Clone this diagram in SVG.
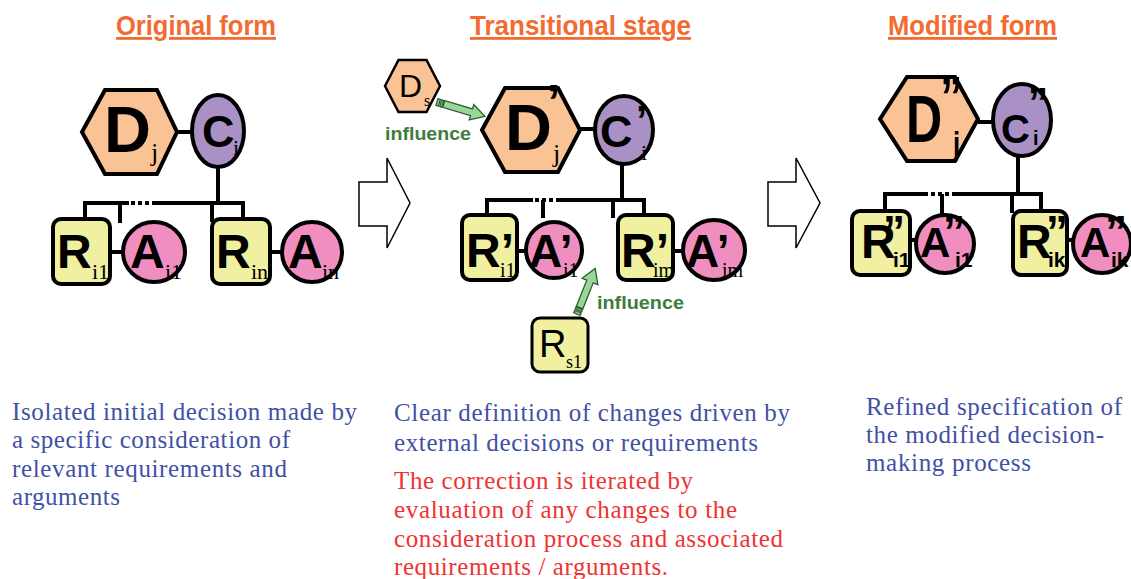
<svg xmlns="http://www.w3.org/2000/svg" width="1131" height="579" viewBox="0 0 1131 579">
<style>
.title{font-family:"Liberation Sans",Arial,sans-serif;font-weight:bold;font-size:28px;fill:#F26B30;text-decoration:underline}
.big{font-family:"Liberation Sans",Arial,sans-serif;font-weight:bold;fill:#000}
.reg{font-family:"Liberation Sans",Arial,sans-serif;fill:#000}
.ser{font-family:"Liberation Serif","Times New Roman",serif;font-weight:normal;fill:#000}
.hex{fill:#FAC396;stroke:#000;stroke-width:4;stroke-linejoin:miter}
.cel{fill:#A991C6;stroke:#000;stroke-width:4}
.rbox{fill:#F0F0A0;stroke:#000;stroke-width:4}
.acir{fill:#F08FBF;stroke:#000;stroke-width:4}
.ln{stroke:#000;stroke-width:4;fill:none}
.dash{stroke:#000;stroke-width:4;fill:none;stroke-dasharray:4 3}
.blk{fill:#fff;stroke:#000;stroke-width:1.5;stroke-linejoin:miter}
.garr{fill:#99D699;stroke:#2E5E2E;stroke-width:1.3}
.inf{font-family:"Liberation Sans",Arial,sans-serif;font-weight:bold;font-size:19px;fill:#3C7D3C}
.blue{font-family:"Liberation Serif","Times New Roman",serif;font-size:25px;fill:#3F51A5}
.red{font-family:"Liberation Serif","Times New Roman",serif;font-size:25px;fill:#EE3333}
</style>

<!-- titles -->
<text class="title" x="116" y="35" textLength="160" lengthAdjust="spacingAndGlyphs">Original form</text>
<text class="title" x="470" y="35" textLength="221" lengthAdjust="spacingAndGlyphs">Transitional stage</text>
<text class="title" x="888" y="35" textLength="169" lengthAdjust="spacingAndGlyphs">Modified form</text>

<!-- connectors -->
<g id="connectors">
  <line class="ln" x1="177" y1="132" x2="193" y2="132"/>
  <line class="ln" x1="218" y1="167" x2="218" y2="203"/>
  <path class="ln" d="M85 221 V203 H129 M154 203 H243 V221 M120 203 V223 M212 203 V222"/>
  <line class="dash" x1="131" y1="203" x2="154" y2="203"/>
  <line class="ln" x1="110" y1="252" x2="123" y2="252"/>
  <line class="ln" x1="270" y1="252" x2="282" y2="252"/>
  <line class="ln" x1="580" y1="129" x2="596" y2="129"/>
  <line class="ln" x1="622" y1="163" x2="622" y2="200"/>
  <path class="ln" d="M487 217 V200 H533 M558 200 H644 V217 M543 200 V218 M613 200 V218"/>
  <line class="dash" x1="535" y1="200" x2="558" y2="200"/>
  <line class="ln" x1="517" y1="251" x2="527" y2="251"/>
  <line class="ln" x1="673" y1="251" x2="683" y2="251"/>
  <line class="ln" x1="978" y1="122" x2="994" y2="122"/>
  <line class="ln" x1="1018" y1="155" x2="1018" y2="194"/>
  <path class="ln" d="M885 213 V194 H928 M955 194 H1041 V213 M942 194 V216 M1012 194 V213"/>
  <line class="dash" x1="931" y1="194" x2="955" y2="194"/>
  <line class="ln" x1="910" y1="240" x2="917" y2="240"/>
  <line class="ln" x1="1067" y1="240" x2="1074" y2="240"/>
  <g transform="translate(437,102) rotate(16.6)">
    <rect class="garr" x="0" y="-3.5" width="2.5" height="7"/>
    <rect class="garr" x="4" y="-3.5" width="2" height="7"/>
    <polygon class="garr" points="7,-3.5 36,-3.5 36,-8 50,0 36,8 36,3.5 7,3.5"/>
  </g>
  <g transform="translate(577,314) rotate(-68.2)">
    <rect class="garr" x="0" y="-3.5" width="2.5" height="7"/>
    <rect class="garr" x="4" y="-3.5" width="2" height="7"/>
    <polygon class="garr" points="7,-3.5 35,-3.5 35,-8.5 49,0 35,8.5 35,3.5 7,3.5"/>
  </g>
</g>

<!-- big hollow arrows -->
<polygon class="blk" points="359,182 387,182 387,158 410,203 387,248 387,226 359,226"/>
<polygon class="blk" points="768,182 796,182 796,158 820,203 796,248 796,226 768,226"/>

<!-- ORIGINAL FORM -->
<g id="orig-D">
  <polygon class="hex" points="82,132 105,90 157,90 177,132 157,174 105,174"/>
  <text class="big" x="104" y="152" font-size="65">D<tspan class="ser" x="151" y="161" font-size="26">j</tspan></text>
</g>
<g id="orig-C">
  <ellipse class="cel" cx="218" cy="131" rx="26" ry="36"/>
  <text class="big" x="202" y="147" font-size="45">C<tspan class="ser" x="233" y="155" font-size="22">i</tspan></text>
</g>
<g id="orig-R1">
  <rect class="rbox" x="53" y="219" width="57" height="65" rx="8"/>
  <text class="big" x="57" y="268" font-size="48">R<tspan class="ser" x="92" y="279" font-size="22">i1</tspan></text>
</g>
<g id="orig-A1">
  <ellipse class="acir" cx="154" cy="252" rx="31" ry="30"/>
  <text class="big" x="130" y="268" font-size="48">A<tspan class="ser" x="165" y="279" font-size="22">i1</tspan></text>
</g>
<g id="orig-Rn">
  <rect class="rbox" x="212" y="219" width="58" height="65" rx="8"/>
  <text class="big" x="216" y="268" font-size="48">R<tspan class="ser" x="251" y="279" font-size="22">in</tspan></text>
</g>
<g id="orig-An">
  <ellipse class="acir" cx="312" cy="252" rx="30" ry="30"/>
  <text class="big" x="288" y="268" font-size="48">A<tspan class="ser" x="322" y="279" font-size="22">in</tspan></text>
</g>

<!-- TRANSITIONAL STAGE -->
<g id="trans-Ds">
  <polygon class="hex" style="stroke-width:2.5" points="385,86 398.5,60 426.5,60 440,86 426.5,112 398.5,112"/>
  <text class="reg" x="399" y="97" font-size="32">D<tspan class="ser" x="424" y="106" font-size="16">s</tspan></text>
</g>
<text class="inf" x="385" y="140" textLength="86" lengthAdjust="spacingAndGlyphs">influence</text>
<g id="trans-D">
  <polygon class="hex" points="482,130 505,88 558,88 580,130 558,172 505,172"/>
  <text class="big" x="505" y="150" font-size="65">D<tspan x="547" y="118" font-size="48">’</tspan><tspan class="ser" x="553" y="162" font-size="26">j</tspan></text>
</g>
<g id="trans-C">
  <ellipse class="cel" cx="624" cy="130" rx="29" ry="34"/>
  <text class="big" x="600" y="147" font-size="45">C<tspan x="636" y="134" font-size="40">’</tspan><tspan class="ser" x="641" y="160" font-size="22">i</tspan></text>
</g>
<g id="trans-R1">
  <rect class="rbox" x="462" y="215" width="55" height="65" rx="8"/>
  <text class="big" x="466" y="267" font-size="48">R’<tspan class="ser" x="500" y="277" font-size="20">i1</tspan></text>
</g>
<g id="trans-A1">
  <ellipse class="acir" cx="554" cy="250" rx="28" ry="28"/>
  <text class="big" x="529" y="267" font-size="46">A’<tspan class="ser" x="563" y="277" font-size="20">i1</tspan></text>
</g>
<g id="trans-Rm">
  <rect class="rbox" x="618" y="215" width="55" height="65" rx="8"/>
  <text class="big" x="621" y="267" font-size="48">R’<tspan class="ser" x="653" y="277" font-size="20">im</tspan></text>
</g>
<g id="trans-Am">
  <ellipse class="acir" cx="714" cy="250" rx="31" ry="30"/>
  <text class="big" x="686" y="267" font-size="46">A’<tspan class="ser" x="722" y="277" font-size="20">im</tspan></text>
</g>
<g id="trans-Rs">
  <rect class="rbox" style="stroke-width:3" x="532" y="318" width="56" height="54" rx="8"/>
  <text class="reg" x="539" y="357" font-size="38">R<tspan class="ser" x="566" y="368" font-size="18">s1</tspan></text>
</g>
<text class="inf" x="597" y="309" textLength="87" lengthAdjust="spacingAndGlyphs">influence</text>

<!-- MODIFIED FORM -->
<g id="mod-D">
  <polygon class="hex" points="880,119 907,77 955,77 978,119 955,161 907,161"/>
  <text class="big" font-size="66" transform="translate(906,142) scale(0.76,1)">D<tspan x="45" y="-25" font-size="58">”</tspan><tspan x="62" y="13" font-size="34">j</tspan></text>
</g>
<g id="mod-C">
  <ellipse class="cel" cx="1022" cy="120" rx="29" ry="36"/>
  <text class="big" x="1001" y="143" font-size="40">C<tspan x="1028" y="116">”</tspan><tspan x="1033" y="145" font-size="20">i</tspan></text>
</g>
<g id="mod-R1">
  <rect class="rbox" x="852" y="211" width="58" height="64" rx="8"/>
  <text class="big" x="861" y="258" font-size="48">R<tspan x="883" y="247" font-size="44">”</tspan><tspan x="893" y="267" font-size="21">i1</tspan></text>
</g>
<g id="mod-A1">
  <ellipse class="acir" cx="945" cy="244" rx="29" ry="29"/>
  <text class="big" x="920" y="257" font-size="42">A<tspan x="943" y="247" font-size="44">”</tspan><tspan x="955" y="267" font-size="21">i1</tspan></text>
</g>
<g id="mod-Rk">
  <rect class="rbox" x="1013" y="211" width="54" height="64" rx="8"/>
  <text class="big" x="1017" y="258" font-size="48">R<tspan x="1046" y="247" font-size="44">”</tspan><tspan x="1048" y="267" font-size="21">ik</tspan></text>
</g>
<g id="mod-Ak">
  <ellipse class="acir" cx="1102" cy="244" rx="29" ry="29"/>
  <text class="big" x="1080" y="257" font-size="42">A<tspan x="1105" y="247" font-size="44">”</tspan><tspan x="1111" y="267" font-size="21">ik</tspan></text>
</g>

<!-- descriptions -->
<text class="blue" x="12" y="420" textLength="345">Isolated initial decision made by</text>
<text class="blue" x="12" y="448" textLength="278">a specific consideration of</text>
<text class="blue" x="12" y="477" textLength="275">relevant requirements and</text>
<text class="blue" x="12" y="505" textLength="108">arguments</text>

<text class="blue" x="394" y="421" textLength="396">Clear definition of changes driven by</text>
<text class="blue" x="394" y="451" textLength="364">external decisions or requirements</text>
<text class="red" x="394" y="489" textLength="299">The correction is iterated by</text>
<text class="red" x="394" y="518" textLength="343">evaluation of any changes to the</text>
<text class="red" x="394" y="547" textLength="389">consideration process and associated</text>
<text class="red" x="394" y="575" textLength="274">requirements / arguments.</text>

<text class="blue" x="866" y="415" textLength="256">Refined specification of</text>
<text class="blue" x="866" y="443" textLength="238">the modified decision-</text>
<text class="blue" x="866" y="471" textLength="165">making process</text>
</svg>
